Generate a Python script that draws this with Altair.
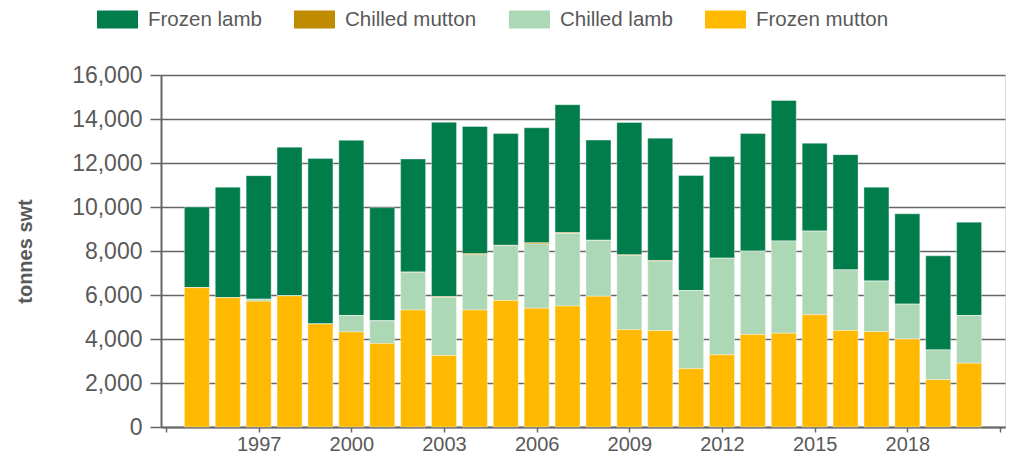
import altair as alt
import pandas as pd

years = list(range(1995, 2021))
frozen_mutton = [6330, 5870, 5715, 5960, 4680, 4320, 3790, 5320, 3250, 5320, 5750, 5400, 5500,
                 5940, 4420, 4380, 2650, 3280, 4200, 4260, 5100, 4390, 4330, 4000, 2150, 2900]
chilled_lamb = [0, 0, 90, 0, 0, 750, 1040, 1700, 2650, 2510, 2490, 2920, 3300,
                2540, 3370, 3160, 3550, 4390, 3790, 4190, 3800, 2750, 2300, 1580, 1350, 2170]
chilled_mutton = [0, 0, 0, 0, 0, 0, 0, 30, 30, 50, 20, 50, 40,
                  10, 40, 30, 0, 0, 0, 0, 0, 0, 0, 0, 0, 0]
frozen_lamb = [3670, 5030, 5620, 6760, 7530, 7960, 5140, 5130, 7920, 5780, 5080, 5230, 5810,
               4550, 6010, 5560, 5230, 4620, 5350, 6390, 4000, 5240, 4270, 4110, 4280, 4240]

series_names = ["Frozen lamb", "Chilled mutton", "Chilled lamb", "Frozen mutton"]
series_colors = ["#007D4B", "#BF8C00", "#ADD8B6", "#FFB900"]
stack_rank = {"Frozen mutton": 0, "Chilled lamb": 1, "Chilled mutton": 2, "Frozen lamb": 3}
series_values = {
    "Frozen lamb": frozen_lamb,
    "Chilled mutton": chilled_mutton,
    "Chilled lamb": chilled_lamb,
    "Frozen mutton": frozen_mutton,
}
x_ticks = [1994, 1997, 2000, 2003, 2006, 2009, 2012, 2015, 2018, 2021]

rows = []
for name in series_names:
    for yr, v in zip(years, series_values[name]):
        rows.append({"year": yr, "series": name, "value": v, "rank": stack_rank[name]})
df = pd.DataFrame(rows)

FONT = "Liberation Sans"
GREY = "#595959"
LINE = "#666666"

chart = alt.Chart(df).mark_bar(size=25, stroke="white", strokeWidth=0.6, strokeOpacity=0.6).encode(
    x=alt.X("year:Q",
            scale=alt.Scale(domain=[1994, 2021], nice=False, zero=False),
            axis=alt.Axis(values=x_ticks, format="d", title=None, grid=False,
                          labelExpr="(datum.value == 1994 || datum.value == 2021) ? '' : datum.label",
                          labelFont=FONT, labelFontSize=20, labelColor=GREY, labelPadding=2,
                          tickSize=5, tickColor=LINE, tickWidth=1.5,
                          domainColor=LINE, domainWidth=2)),
    y=alt.Y("value:Q", stack="zero",
            scale=alt.Scale(domain=[0, 16000], nice=False),
            axis=alt.Axis(values=list(range(0, 16001, 2000)), format=",d",
                          title="tonnes swt", titleFont=FONT, titleFontSize=20,
                          titleFontWeight="bold", titleColor=GREY, titleAngle=270,
                          titleX=-136, titleY=176, titleBaseline="middle", titleAlign="center",
                          labelFont=FONT, labelFontSize=23, labelColor=GREY, labelPadding=8,
                          tickSize=11, tickColor=LINE, tickWidth=1.5,
                          grid=True, gridColor=LINE, gridWidth=1.6,
                          domainColor=LINE, domainWidth=2)),
    color=alt.Color("series:N",
                    scale=alt.Scale(domain=series_names, range=series_colors),
                    legend=alt.Legend(orient="none", direction="horizontal", title=None,
                                      legendX=-64, legendY=-76, padding=0,
                                      symbolType="M-1,-0.44H1V0.44H-1Z", symbolSize=1681,
                                      symbolStrokeWidth=0, symbolOpacity=1,
                                      labelFont=FONT, labelFontSize=20.5, labelColor=GREY,
                                      labelOffset=10, columnPadding=32, labelLimit=300)),
    order=alt.Order("rank:Q", sort="ascending"),
).properties(
    width=844, height=352,
    autosize=alt.AutoSizeParams(type="none"),
    padding={"left": 153, "top": 67, "right": 1, "bottom": 28},
).configure_view(stroke=None).configure(font=FONT)

chart.save("out.html", embed_options={"renderer": "svg", "actions": False})
